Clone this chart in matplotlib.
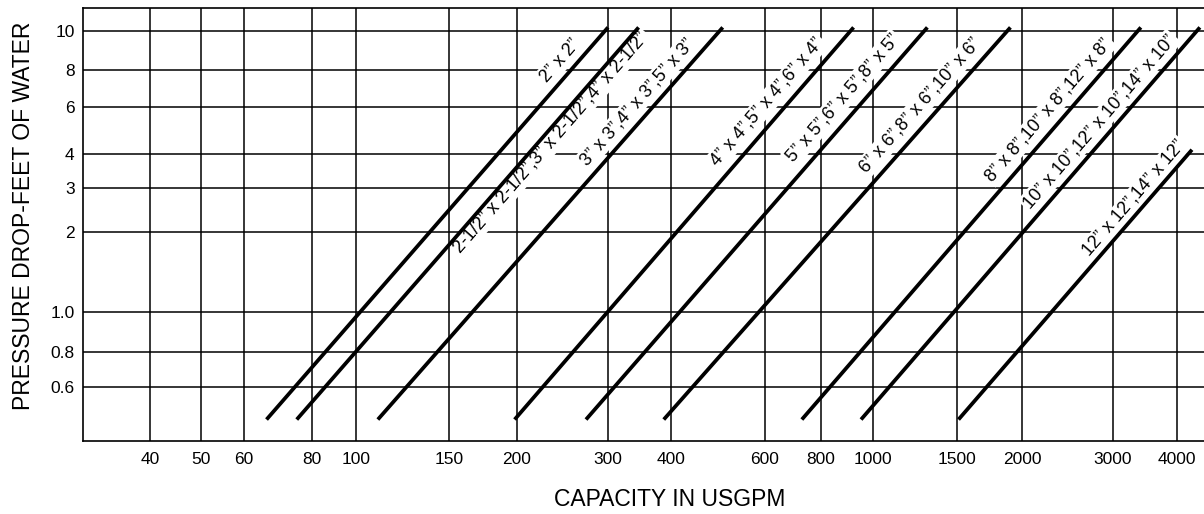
import numpy as np
import matplotlib
matplotlib.use('Agg')
import matplotlib.pyplot as plt

plt.rcParams['font.family'] = ['Liberation Sans', 'DejaVu Sans']

# --- data: pressure drop lines (flow in USGPM, drop in ft of water) ---
sizes = [
    '2” x 2”',
    '2-1/2” x 2-1/2”,3” x 2-1/2”,4” x 2-1/2”',
    '3” x 3”,4” x 3”,5” x 3”',
    '4” x 4”,5” x 4”,6” x 4”',
    '5” x 5”,6” x 5”,8” x 5”',
    '6” x 6”,8” x 6”,10” x 6”',
    '8” x 8”,10” x 8”,12” x 8”',
    '10” x 10”,12” x 10”,14” x 10”',
    '12” x 12”,14” x 12”',
]
flow_low = [66, 75, 110, 198, 272, 387, 725, 950, 1510]
flow_high = [300, 345, 500, 920, 1300, 1900, 3400, 4420, 4270]
drop_low = [0.47, 0.47, 0.47, 0.47, 0.47, 0.47, 0.47, 0.47, 0.47]
drop_high = [10.2, 10.2, 10.2, 10.2, 10.2, 10.2, 10.2, 10.2, 4.15]

x_ticks = [40, 50, 60, 80, 100, 150, 200, 300, 400, 600, 800, 1000, 1500, 2000, 3000, 4000]
y_ticks = [0.6, 0.8, 1.0, 2, 3, 4, 6, 8, 10]
y_ticklabels = ['0.6', '0.8', '1.0', '2', '3', '4', '6', '8', '10']

# label placement: fraction along line, horizontal shift in px (+ = left of line)
label_t = [0.916, 0.706, 0.81, 0.81, 0.82, 0.80, 0.79, 0.76, 0.82]
label_shift = [19, -13, 20, 22, 23, 21, 21, 19, 16]

# --- hand drawn chart scales (roughly logarithmic, uneven) ---
x_scale_vals = [30, 40, 50, 60, 80, 100, 150, 200, 300, 400, 600, 800, 1000, 1500, 2000, 3000, 4000, 4500]
x_scale_pos = [83, 150, 201, 244, 312, 356, 449, 517, 608, 671, 765, 821, 873, 957, 1022, 1113, 1177, 1204]
y_scale_vals = [0.4, 0.6, 0.8, 1.0, 2, 3, 4, 6, 8, 10, 11.5]
y_scale_pos = [441, 387, 352, 311.7, 232, 188, 154, 107, 69.7, 30.7, 7.5]


def make_scale(vals, pos):
    lv = np.log10(vals)
    p = np.asarray(pos, dtype=float)
    if p[0] > p[-1]:
        p = -p

    def fwd(v):
        return np.interp(np.log10(np.clip(v, 1e-9, None)), lv, p)

    def inv(s):
        return 10 ** np.interp(s, p, lv)
    return fwd, inv


fig = plt.figure(figsize=(12.04, 5.14), dpi=100)
ax = fig.add_axes([83 / 1204, (514 - 441) / 514, (1204 - 83) / 1204, (441 - 7.5) / 514])
ax.set_xscale('function', functions=make_scale(x_scale_vals, x_scale_pos))
ax.set_yscale('function', functions=make_scale(y_scale_vals, y_scale_pos))
ax.set_xlim(30, 4500)
ax.set_ylim(0.4, 11.5)

ax.set_xticks(x_ticks, [str(v) for v in x_ticks])
ax.set_yticks(y_ticks, y_ticklabels)
ax.minorticks_off()
ax.tick_params(axis='x', length=0, pad=8, labelsize=12.5)
ax.tick_params(axis='y', length=0, pad=6, labelsize=12.5)
ax.grid(True, color='black', lw=1.1, zorder=1)
ax.set_axisbelow(True)
ax.spines['right'].set_visible(False)
for s in ['left', 'bottom', 'top']:
    ax.spines[s].set_linewidth(1.2)

for i in range(len(sizes)):
    ax.plot([flow_low[i], flow_high[i]], [drop_low[i], drop_high[i]],
            color='black', lw=2.7, solid_capstyle='butt', zorder=4)

# labels along the lines
for i, name in enumerate(sizes):
    p0 = ax.transData.transform((flow_low[i], drop_low[i]))
    p1 = ax.transData.transform((flow_high[i], drop_high[i]))
    ang = np.degrees(np.arctan2(p1[1] - p0[1], p1[0] - p0[0]))
    pm = p0 + label_t[i] * (p1 - p0)
    xy = ax.transData.inverted().transform(pm)
    ax.annotate(name, xy=xy, xytext=(-label_shift[i] * 0.72, 0), textcoords='offset points',
                rotation=ang, rotation_mode='anchor',
                ha='center', va='center', fontsize=13, zorder=3,
                bbox=dict(facecolor='white', edgecolor='none', pad=1.5))

fig.text(670 / 1204, 1 - 500 / 514, 'CAPACITY IN USGPM', ha='center', va='center', fontsize=16.5)
fig.text(24 / 1204, 1 - 216 / 514, 'PRESSURE DROP-FEET OF WATER', rotation=90,
         ha='center', va='center', fontsize=16.5)

fig.savefig('out.png', dpi=100)
